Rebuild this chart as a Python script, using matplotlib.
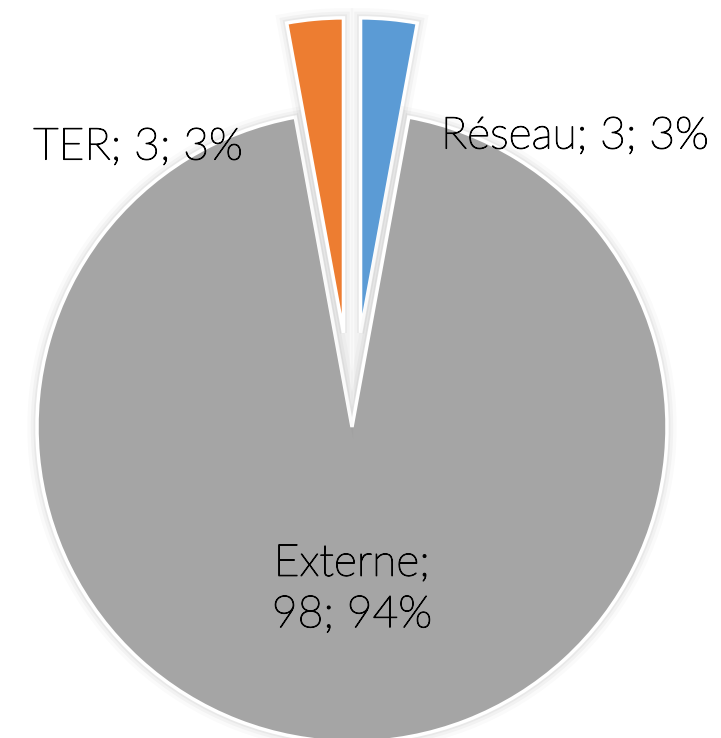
import matplotlib
matplotlib.use("Agg")
import matplotlib.pyplot as plt
import matplotlib.patheffects as pe

# data
labels = ["Réseau", "Externe", "TER"]
values = [3, 98, 3]
colors = ["#5B9BD5", "#A5A5A5", "#ED7D31"]
explode = [0.3, 0.0, 0.3]

W, H = 721, 738
R = 315.0          # pie radius in pixels
cx, cy = 352, 427  # pie centre in pixels (from top)

plt.rcParams['font.family'] = ['Lato', 'DejaVu Sans']

fig = plt.figure(figsize=(W / 100, H / 100), dpi=100)
ax = fig.add_axes([0, 0, 1, 1])

wedges, _ = ax.pie(values, colors=colors, explode=explode, startangle=90,
                   counterclock=False, radius=1.0,
                   wedgeprops=dict(edgecolor="white", linewidth=2.5))

# soft grey glow round the slices
glow = [pe.Stroke(linewidth=14, foreground="black", alpha=0.02),
        pe.Stroke(linewidth=9, foreground="black", alpha=0.03),
        pe.Stroke(linewidth=5, foreground="black", alpha=0.04),
        pe.Normal()]
for w in wedges:
    w.set_path_effects(glow)

ax.set_xlim(-cx / R, (W - cx) / R)
ax.set_ylim((cy - H) / R, cy / R)
ax.set_aspect("auto")
ax.axis("off")

total = sum(values)
texts = ["%s; %d; %d%%" % (labels[0], values[0], round(100 * values[0] / total)),
         "%s;\n%d; %d%%" % (labels[1], values[1], round(100 * values[1] / total)),
         "%s; %d; %d%%" % (labels[2], values[2], round(100 * values[2] / total))]
pos = [(575, 137), (352, 590), (138, 148)]
for t, (px, py) in zip(texts, pos):
    fig.text(px / W, 1 - py / H, t, ha="center", va="center", fontsize=32,
             fontweight="light", color="black", linespacing=1.4,
             path_effects=[pe.withStroke(linewidth=0.8, foreground="black")])

fig.savefig("out.png", dpi=100)
